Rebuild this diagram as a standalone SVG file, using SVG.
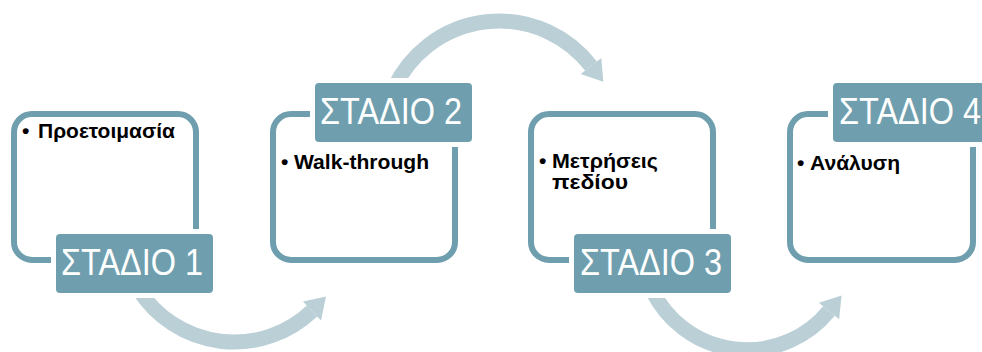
<svg xmlns="http://www.w3.org/2000/svg" width="982" height="352" viewBox="0 0 982 352">
<style>
.box{fill:#fff;stroke:#6F9FAE;stroke-width:6}
.lab{fill:#6F9FAE;stroke:#fff;stroke-width:10;paint-order:stroke}
.lt{font-family:"Liberation Sans",Arial,sans-serif;font-size:37px;fill:#fff}
.bt{font-family:"Liberation Sans",Arial,sans-serif;font-size:21px;font-weight:bold;fill:#000}
.arc{fill:none;stroke:#BACFD6;stroke-width:15}
.head{fill:#BACFD6}
</style>
<g id="connectors">
<path class="arc" d="M139 290 A113.1 113.1 0 0 0 312 311"/>
<polygon class="head" points="326,296.5 321,320.4 303,301.6"/>
<path class="arc" d="M394 88 A116.2 116.2 0 0 1 591 66"/>
<polygon class="head" points="603.3,81.8 601.3,58 580.7,74"/>
<path class="arc" d="M652 290 A105.7 105.7 0 0 0 829 311"/>
<polygon class="head" points="841.6,295.5 839.1,319.2 818.9,302.8"/>
</g>
<g id="stage1">
<rect class="box" x="14" y="114" width="182" height="146" rx="18"/>
<text class="bt" x="22" y="138">•</text>
<text class="bt" x="38" y="138" textLength="137" lengthAdjust="spacingAndGlyphs">Προετοιμασία</text>
<rect class="lab" x="56" y="234" width="157" height="59" rx="4"/>
<text class="lt" x="61" y="275" textLength="142" lengthAdjust="spacingAndGlyphs">ΣΤΑΔΙΟ 1</text>
</g>
<g id="stage2">
<rect class="box" x="273" y="114" width="182" height="146" rx="18"/>
<text class="bt" x="281" y="169">•</text>
<text class="bt" x="294" y="169" textLength="135" lengthAdjust="spacingAndGlyphs">Walk-through</text>
<rect class="lab" x="315" y="83" width="157" height="59" rx="4"/>
<text class="lt" x="320" y="124" textLength="142" lengthAdjust="spacingAndGlyphs">ΣΤΑΔΙΟ 2</text>
</g>
<g id="stage3">
<rect class="box" x="531" y="114" width="182" height="146" rx="18"/>
<text class="bt" x="539" y="168">•</text>
<text class="bt" x="552" y="168" textLength="106" lengthAdjust="spacingAndGlyphs">Μετρήσεις</text>
<text class="bt" x="552" y="189" textLength="76" lengthAdjust="spacingAndGlyphs">πεδίου</text>
<rect class="lab" x="574" y="234" width="157" height="59" rx="4"/>
<text class="lt" x="580" y="275" textLength="142" lengthAdjust="spacingAndGlyphs">ΣΤΑΔΙΟ 3</text>
</g>
<g id="stage4">
<rect class="box" x="790" y="114" width="183" height="146" rx="18"/>
<text class="bt" x="797" y="170">•</text>
<text class="bt" x="810" y="170" textLength="90" lengthAdjust="spacingAndGlyphs">Ανάλυση</text>
<rect class="lab" x="833" y="83" width="157" height="59" rx="4"/>
<text class="lt" x="839" y="124" textLength="142" lengthAdjust="spacingAndGlyphs">ΣΤΑΔΙΟ 4</text>
</g>
</svg>
